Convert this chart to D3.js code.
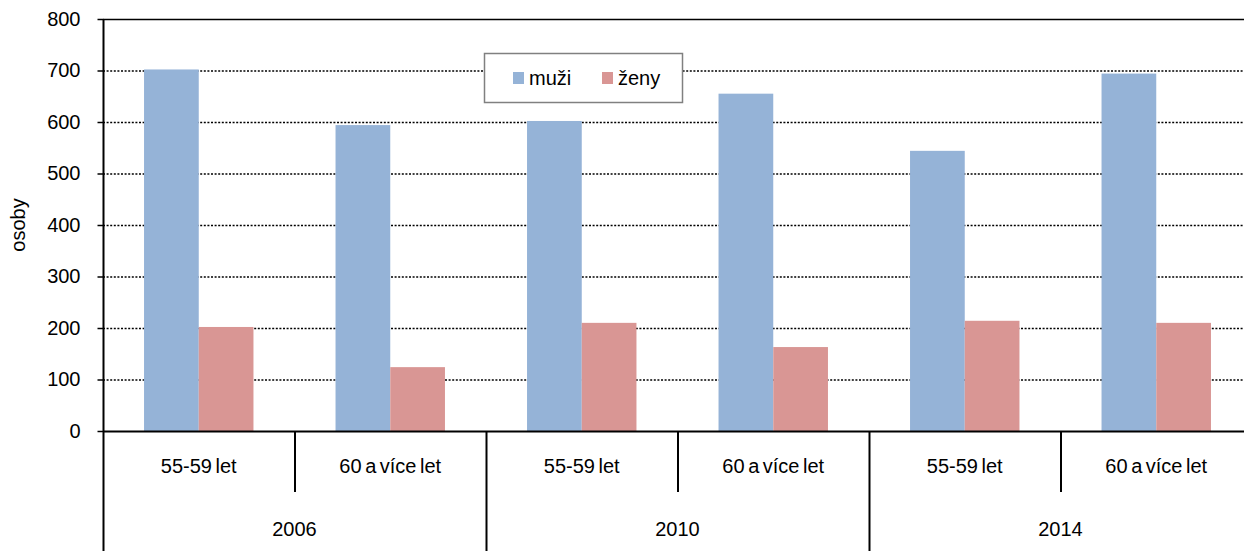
<!DOCTYPE html>
<html>
  <head>
    <script src="https://d3js.org/d3.v7.min.js"></script>
    <style>
      body { margin: 0; background: #ffffff; }
      svg text { font-family: "Liberation Sans", Arial, sans-serif; font-size: 20px; fill: #000; }
    </style>
  </head>
  <body>
    <div id="chart"></div>
    <script>
      const years = ["2006", "2010", "2014"];
      const ageGroups = ["55-59 let", "60 a více let"];
      const muzi = [702, 594, 602, 655, 544, 694];
      const zeny = [202, 124, 210, 163, 214, 210];
      const yTicks = [0, 100, 200, 300, 400, 500, 600, 700, 800];

      const width = 1244, height = 551;
      const plotLeft = 103, plotRight = 1252, plotTop = 19, zeroY = 431;

      const svg = d3.select("#chart").append("svg")
        .attr("width", width).attr("height", height);

      const cats = [];
      years.forEach((y) => ageGroups.forEach((a) => cats.push(y + "|" + a)));

      const x = d3.scaleBand().domain(cats).range([plotLeft, plotRight]).paddingInner(0).paddingOuter(0);
      const y = d3.scaleLinear().domain([0, 800]).range([zeroY, plotTop]);
      const sub = d3.scaleBand().domain(["muzi", "zeny"]).range([0, x.bandwidth()]).paddingInner(0).paddingOuter(0.75);

      // gridlines
      svg.append("g").selectAll("line")
        .data(yTicks.filter((t) => t > 0 && t < 800))
        .enter().append("line")
        .attr("x1", plotLeft).attr("x2", plotRight)
        .attr("y1", (d) => y(d) + 0.5).attr("y2", (d) => y(d) + 0.5)
        .attr("stroke", "#000").attr("stroke-width", 1.4)
        .attr("stroke-dasharray", "2,1.6");

      svg.append("line")
        .attr("x1", plotLeft).attr("x2", plotRight)
        .attr("y1", y(800) + 0.5).attr("y2", y(800) + 0.5)
        .attr("stroke", "#000").attr("stroke-width", 1.5);

      // bars
      const data = cats.map((c, i) => ({ cat: c, muzi: muzi[i], zeny: zeny[i] }));
      const colors = { muzi: "#95B3D7", zeny: "#D99694" };
      ["muzi", "zeny"].forEach((k) => {
        svg.append("g").selectAll("rect")
          .data(data).enter().append("rect")
          .attr("x", (d) => x(d.cat) + sub(k))
          .attr("width", sub.bandwidth())
          .attr("y", (d) => y(d[k]))
          .attr("height", (d) => zeroY - y(d[k]))
          .attr("fill", colors[k]);
      });

      // y axis
      const yAxis = svg.append("g").attr("transform", `translate(${plotLeft + 0.5},0)`)
        .call(d3.axisLeft(y).tickValues(yTicks).tickSize(6).tickPadding(17));
      yAxis.select(".domain").remove();
      yAxis.selectAll(".tick line").attr("stroke", "#000").attr("stroke-width", 1.5);
      yAxis.selectAll(".tick text").style("font-size", "20px").style("font-family", "Liberation Sans, Arial, sans-serif");

      svg.append("line")
        .attr("x1", plotLeft + 0.5).attr("x2", plotLeft + 0.5)
        .attr("y1", plotTop).attr("y2", height)
        .attr("stroke", "#000").attr("stroke-width", 2);

      // x axis
      svg.append("line")
        .attr("x1", plotLeft).attr("x2", plotRight)
        .attr("y1", zeroY + 0.5).attr("y2", zeroY + 0.5)
        .attr("stroke", "#000").attr("stroke-width", 2);

      svg.append("g").selectAll("line")
        .data(cats.slice(1))
        .enter().append("line")
        .attr("x1", (d) => x(d) + 0.5).attr("x2", (d) => x(d) + 0.5)
        .attr("y1", zeroY)
        .attr("y2", (d, i) => ((i + 1) % ageGroups.length === 0 ? height : 492))
        .attr("stroke", "#000").attr("stroke-width", 2);

      svg.append("g").selectAll("text")
        .data(cats).enter().append("text")
        .attr("x", (d) => x(d) + x.bandwidth() / 2)
        .attr("y", 473)
        .attr("text-anchor", "middle")
        .attr("word-spacing", "-2px")
        .text((d) => d.split("|")[1]);

      svg.append("g").selectAll("text")
        .data(years).enter().append("text")
        .attr("x", (d) => x(d + "|" + ageGroups[0]) + x.bandwidth())
        .attr("y", 536)
        .attr("text-anchor", "middle")
        .text((d) => d);

      // y title
      svg.append("text")
        .attr("transform", "translate(25,225) rotate(-90)")
        .attr("text-anchor", "middle")
        .text("osoby");

      // legend
      const lg = svg.append("g");
      lg.append("rect")
        .attr("x", 484.5).attr("y", 53.5).attr("width", 198).attr("height", 49)
        .attr("fill", "#fff").attr("stroke", "#808080").attr("stroke-width", 1.5);
      const items = [["muzi", "muži", 513], ["zeny", "ženy", 602]];
      items.forEach(([k, label, lx]) => {
        lg.append("rect").attr("x", lx).attr("y", 72).attr("width", 11).attr("height", 12).attr("fill", colors[k]);
        lg.append("text").attr("x", lx + 16).attr("y", 85).text(label);
      });
    </script>
  </body>
</html>
